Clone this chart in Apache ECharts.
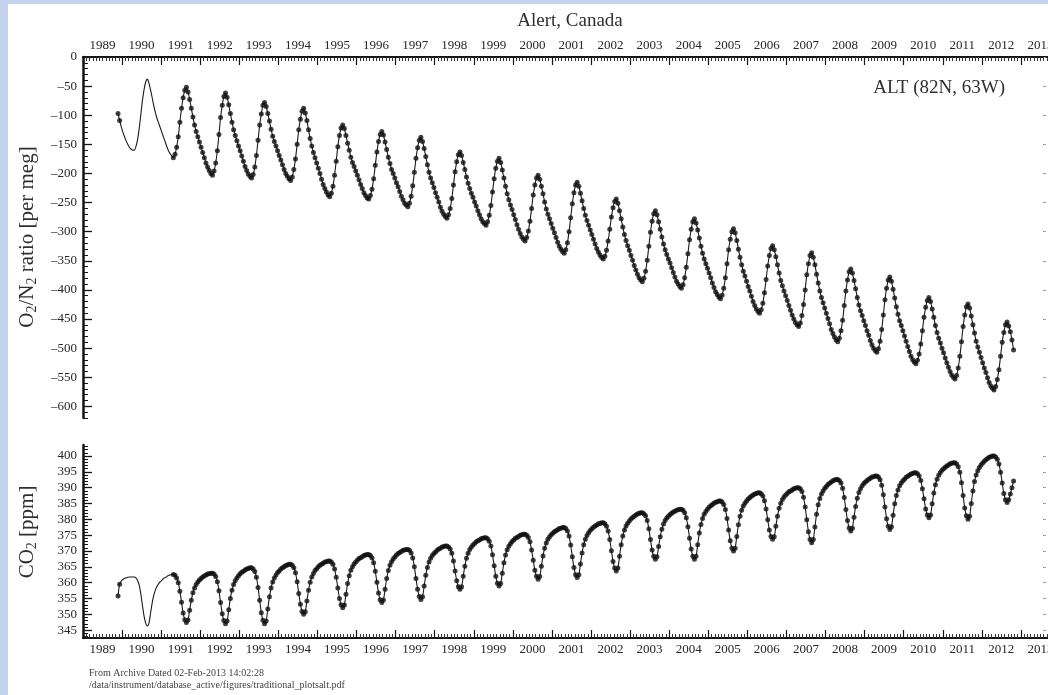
<!DOCTYPE html>
<html><head><meta charset="utf-8">
<script src="https://cdn.jsdelivr.net/npm/echarts@6/dist/echarts.min.js"></script>
<style>
html,body{margin:0;padding:0;background:#c4d3ee;overflow:hidden;}
#panel{position:absolute;left:8px;top:4px;width:1040px;height:691px;background:#fff;}
#chart{position:absolute;left:0;top:0;width:1048px;height:695px;}
</style></head><body><div id="panel"></div><div id="chart"></div>
<script>
// Semi-monthly samples (24 per year), first sample at 1989 + 21.5/24
const seriesStart = 1989 + 21.5 / 24;
const samplesPerYear = 24;
// data gap (curve only, no flask points)
const gapFrom = 1989.95, gapTo = 1991.29;

const o2n2 = [
-97,-109,-120,
-129,-137,-144,-150,-155,-158,-160,-160,-154,-142,-123,-99,-75,-56,-43,-38,-45,-57,-70,-84,-96,-106,-114,-122,
-130,-138,-146,-154,-161,-166,-170,-173,-167,-155,-137,-112,-88,-70,-57,-52,-60,-73,-88,-103,-117,-128,-137,-146,
-155,-164,-173,-182,-189,-195,-200,-203,-196,-182,-161,-133,-104,-83,-68,-62,-69,-82,-97,-112,-125,-135,-144,-153,
-161,-170,-179,-188,-195,-201,-205,-208,-202,-189,-169,-143,-117,-98,-83,-78,-85,-97,-110,-124,-136,-145,-153,-161,
-169,-177,-185,-193,-200,-205,-209,-212,-206,-193,-175,-150,-125,-107,-93,-88,-96,-109,-125,-140,-153,-164,-173,-182,
-191,-200,-210,-219,-226,-232,-237,-240,-234,-222,-203,-179,-154,-135,-122,-117,-123,-135,-148,-160,-172,-181,-188,-196,
-203,-211,-219,-226,-233,-238,-242,-244,-238,-227,-209,-186,-163,-145,-133,-128,-134,-146,-159,-172,-183,-193,-200,-208,
-216,-223,-231,-239,-245,-251,-254,-257,-251,-239,-221,-198,-174,-156,-143,-138,-145,-157,-171,-185,-198,-208,-216,-224,
-233,-241,-249,-258,-265,-270,-274,-277,-271,-260,-243,-220,-197,-180,-168,-163,-169,-181,-193,-206,-217,-226,-234,-241,
-249,-256,-264,-271,-278,-283,-286,-289,-283,-272,-255,-232,-209,-191,-179,-174,-181,-194,-208,-222,-235,-245,-254,-262,
-271,-279,-288,-296,-303,-309,-313,-316,-310,-299,-282,-260,-237,-220,-208,-203,-210,-222,-235,-249,-261,-270,-278,-286,
-294,-302,-310,-318,-325,-330,-334,-337,-331,-319,-300,-276,-252,-233,-220,-215,-222,-234,-247,-260,-272,-281,-289,-297,
-305,-313,-321,-329,-335,-340,-344,-347,-342,-332,-316,-296,-275,-259,-248,-244,-251,-264,-278,-292,-305,-315,-324,-332,
-341,-349,-358,-366,-373,-379,-383,-386,-380,-368,-349,-325,-301,-282,-269,-264,-271,-283,-296,-309,-321,-331,-339,-347,
-354,-362,-370,-378,-385,-390,-394,-397,-391,-379,-361,-338,-314,-296,-283,-278,-285,-297,-311,-325,-337,-347,-355,-363,
-371,-379,-388,-396,-403,-408,-412,-415,-409,-397,-379,-355,-331,-313,-300,-295,-302,-315,-330,-344,-357,-368,-376,-385,
-394,-402,-411,-420,-427,-433,-437,-440,-434,-423,-405,-382,-359,-341,-329,-324,-331,-343,-357,-371,-384,-393,-402,-410,
-418,-427,-435,-443,-450,-456,-460,-463,-457,-444,-425,-400,-374,-355,-341,-336,-344,-357,-373,-388,-402,-413,-422,-431,
-440,-449,-458,-468,-475,-481,-486,-489,-483,-470,-452,-427,-402,-383,-369,-364,-371,-384,-398,-413,-426,-436,-444,-453,
-461,-470,-478,-487,-494,-500,-504,-507,-501,-488,-468,-443,-417,-397,-383,-378,-385,-399,-414,-429,-442,-453,-461,-470,
-479,-488,-497,-506,-514,-520,-524,-527,-521,-510,-493,-470,-447,-430,-418,-413,-420,-433,-447,-461,-473,-483,-491,-500,
-508,-517,-525,-533,-540,-546,-550,-553,-547,-534,-514,-489,-463,-443,-429,-424,-431,-445,-460,-474,-488,-498,-507,-516,
-525,-534,-542,-551,-559,-565,-569,-572,-566,-554,-537,-514,-490,-473,-460,-455,-462,-472,-486,-503
];

const co2 = [
355.8,359.5,360.5,
361.0,361.3,361.5,361.7,361.8,361.8,361.8,361.8,361.5,360.7,359.2,356.4,352.8,349.4,347.2,346.3,347.1,350.4,353.6,356.1,357.7,358.9,359.7,360.3,
360.8,361.3,361.6,361.9,362.3,362.4,362.6,362.6,362.3,361.5,360.0,357.3,353.8,350.4,348.3,347.4,348.2,351.3,354.4,356.8,358.3,359.4,360.2,360.8,
361.3,361.8,362.1,362.4,362.7,362.8,363.0,363.0,362.7,361.9,360.3,357.4,353.7,350.2,348.0,347.0,347.9,351.4,355.0,357.6,359.4,360.6,361.5,362.2,
362.8,363.3,363.6,364.0,364.3,364.5,364.7,364.7,364.3,363.5,361.7,358.5,354.4,350.5,348.1,347.0,347.9,351.7,355.5,358.3,360.2,361.5,362.4,363.2,
363.7,364.3,364.7,365.0,365.4,365.6,365.8,365.8,365.5,364.7,363.1,360.3,356.6,353.2,350.9,350.0,350.8,354.2,357.6,360.1,361.8,362.9,363.8,364.4,
365.0,365.5,365.8,366.1,366.5,366.6,366.8,366.8,366.5,365.8,364.3,361.7,358.3,355.0,353.0,352.1,352.9,356.3,359.7,362.2,363.9,365.0,365.9,366.5,
367.1,367.6,367.9,368.2,368.6,368.7,368.9,368.9,368.6,367.8,366.3,363.6,360.1,356.7,354.6,353.7,354.5,357.9,361.3,363.8,365.5,366.6,367.5,368.1,
368.7,369.2,369.5,369.8,370.2,370.3,370.5,370.5,370.2,369.4,367.8,365.0,361.3,357.9,355.6,354.7,355.5,358.9,362.3,364.8,366.5,367.7,368.6,369.2,
369.7,370.2,370.6,370.9,371.3,371.4,371.6,371.6,371.3,370.6,369.3,366.8,363.7,360.6,358.7,357.9,358.7,362.0,365.2,367.7,369.3,370.5,371.3,371.9,
372.4,372.9,373.2,373.5,373.9,374.0,374.2,374.2,373.9,373.1,371.6,368.8,365.3,362.0,359.8,358.9,359.7,363.0,366.3,368.7,370.4,371.5,372.3,373.0,
373.5,374.0,374.3,374.6,375.0,375.1,375.3,375.3,375.0,374.3,372.9,370.3,367.1,363.9,362.0,361.1,361.9,365.2,368.4,370.9,372.5,373.7,374.5,375.1,
375.6,376.1,376.4,376.7,377.1,377.2,377.4,377.4,377.1,376.3,374.7,371.9,368.2,364.8,362.5,361.6,362.5,365.9,369.4,372.0,373.7,374.9,375.8,376.5,
377.0,377.5,377.9,378.2,378.6,378.7,378.9,378.9,378.6,377.8,376.3,373.6,370.1,366.7,364.6,363.7,364.6,368.3,372.0,374.7,376.6,377.9,378.8,379.5,
380.1,380.6,381.0,381.4,381.7,381.9,382.1,382.1,381.8,381.1,379.6,377.0,373.6,370.3,368.3,367.4,368.2,371.4,374.5,376.9,378.5,379.6,380.4,381.0,
381.5,381.9,382.3,382.6,382.9,383.0,383.2,383.2,382.9,382.1,380.5,377.7,374.0,370.6,368.3,367.4,368.3,372.0,375.7,378.4,380.3,381.6,382.5,383.2,
383.8,384.3,384.7,385.1,385.4,385.6,385.8,385.8,385.5,384.7,383.1,380.3,376.6,373.2,370.9,370.0,370.9,374.6,378.3,381.0,382.9,384.2,385.1,385.8,
386.4,386.9,387.3,387.7,388.0,388.2,388.4,388.4,388.1,387.4,385.9,383.3,379.9,376.6,374.6,373.7,374.5,377.8,381.0,383.5,385.1,386.3,387.1,387.7,
388.2,388.7,389.0,389.3,389.7,389.8,390.0,390.0,389.7,388.8,387.0,383.9,379.9,376.1,373.6,372.6,373.6,377.6,381.6,384.6,386.6,388.0,389.0,389.8,
390.4,391.0,391.4,391.8,392.2,392.4,392.6,392.6,392.3,391.5,389.8,386.9,383.1,379.6,377.3,376.3,377.2,380.7,384.1,386.7,388.5,389.7,390.6,391.3,
391.8,392.3,392.7,393.0,393.4,393.5,393.7,393.7,393.4,392.5,390.8,387.8,383.9,380.2,377.8,376.8,377.7,381.3,384.9,387.5,389.3,390.6,391.5,392.2,
392.7,393.3,393.6,394.0,394.3,394.5,394.7,394.7,394.4,393.7,392.3,389.7,386.5,383.3,381.4,380.5,381.4,384.9,388.3,390.9,392.7,393.9,394.8,395.5,
396.0,396.5,396.9,397.2,397.6,397.7,397.9,397.9,397.5,396.6,394.9,391.6,387.5,383.6,381.1,380.0,381.0,385.0,389.0,392.0,394.0,395.4,396.4,397.2,
397.8,398.4,398.8,399.2,399.6,399.8,400.0,400.0,399.7,399.0,397.5,394.9,391.5,388.2,386.2,385.3,386.2,388.0,390.0,392.1
];

const yearMin = 1989, yearMax = 2014, lastYearLabel = 2013;
const o2MajorTicks = [0,-50,-100,-150,-200,-250,-300,-350,-400,-450,-500,-550,-600];
const o2MinorTicks = [-620,-610,-600,-590,-580,-570,-560,-550,-540,-530,-520,-510,-500,-490,-480,-470,-460,-450,-440,-430,-420,-410,-400,-390,-380,-370,-360,-350,-340,-330,-320,-310,-300,-290,-280,-270,-260,-250,-240,-230,-220,-210,-200,-190,-180,-170,-160,-150,-140,-130,-120,-110,-100,-90,-80,-70,-60,-50,-40,-30,-20,-10,0];
const co2MajorTicks = [345,350,355,360,365,370,375,380,385,390,395,400];
const co2MinorTicks = [343,344,345,346,347,348,349,350,351,352,353,354,355,356,357,358,359,360,361,362,363,364,365,366,367,368,369,370,371,372,373,374,375,376,377,378,379,380,381,382,383,384,385,386,387,388,389,390,391,392,393,394,395,396,397,398,399,400,401,402,403];

const titleText = 'Alert, Canada';
const siteText = 'ALT (82N, 63W)';
const footer1 = 'From Archive Dated 02-Feb-2013 14:02:28';
const footer2 = '/data/instrument/database_active/figures/traditional_plotsalt.pdf';

const timeOf = i => seriesStart + i / samplesPerYear;
const inGap = t => t > gapFrom && t < gapTo;
const o2Curve = o2n2.map((v, i) => [timeOf(i), v]);
const o2Pts = o2Curve.filter(p => !inGap(p[0]));
const co2Curve = co2.map((v, i) => [timeOf(i), v]);
const co2Pts = co2Curve.filter(p => !inGap(p[0]));

const SERIF = '"Liberation Serif","DejaVu Serif",serif';
const TXT = '#262626';
const AX = '#141414';
const minus = v => (v < 0 ? '\u2013' + (-v) : String(v));

function xAxis(grid, pos) {
  return {
    type: 'value', gridIndex: grid, position: pos, min: yearMin, max: yearMax, interval: 1,
    axisLine: { show: true, onZero: false, lineStyle: { color: AX, width: 2 } },
    axisTick: { show: true, inside: true, length: 8, lineStyle: { color: AX, width: 1.2 } },
    minorTick: { show: true, splitNumber: 12, length: 4, lineStyle: { color: '#333', width: 1 } },
    splitLine: { show: false },
    axisLabel: {
      show: true, margin: 5, fontFamily: SERIF, fontSize: 13, color: TXT,
      padding: [0, 0, 0, 39],
      formatter: v => (Number.isInteger(v) && v <= lastYearLabel ? String(v) : '')
    }
  };
}
function yMajor(grid, min, max, ticks, fmt) {
  return {
    type: 'value', gridIndex: grid, position: 'left', min, max,
    axisLine: { show: true, onZero: false, lineStyle: { color: AX, width: 2.5 } },
    axisTick: { show: true, inside: true, length: 9, customValues: ticks, lineStyle: { color: AX, width: 1.3 } },
    axisLabel: { show: true, customValues: ticks, margin: 6, fontFamily: SERIF, fontSize: 13, color: TXT, formatter: fmt },
    splitLine: { show: false }
  };
}
function yMinor(grid, min, max, ticks) {
  return {
    type: 'value', gridIndex: grid, position: 'left', min, max,
    axisLine: { show: false },
    axisTick: { show: true, inside: true, length: 5, customValues: ticks, lineStyle: { color: AX, width: 1 } },
    axisLabel: { show: false }, splitLine: { show: false }
  };
}
function yRight(grid, min, max, ticks) {
  return {
    type: 'value', gridIndex: grid, position: 'right', offset: -14, min, max,
    axisLine: { show: false },
    axisTick: { show: true, inside: true, length: 3, customValues: ticks, lineStyle: { color: '#9a9a9a', width: 1 } },
    axisLabel: { show: false }, splitLine: { show: false }
  };
}

const chart = echarts.init(document.getElementById('chart'), null, { renderer: 'canvas' });
chart.setOption({
  animation: false,
  backgroundColor: 'transparent',
  grid: [
    { left: 83, width: 977, top: 57, height: 361, outerBoundsMode: 'none', containLabel: false },
    { left: 83, width: 977, top: 445, height: 193, outerBoundsMode: 'none', containLabel: false }
  ],
  xAxis: [xAxis(0, 'top'), xAxis(1, 'bottom')],
  yAxis: [
    yMajor(0, -620, 0, o2MajorTicks, minus),
    yMinor(0, -620, 0, o2MinorTicks),
    yRight(0, -620, 0, o2MajorTicks),
    yMajor(1, 342.5, 403.5, co2MajorTicks, v => String(v)),
    yMinor(1, 342.5, 403.5, co2MinorTicks),
    yRight(1, 342.5, 403.5, co2MajorTicks)
  ],
  series: [
    { type: 'line', xAxisIndex: 0, yAxisIndex: 0, data: o2Curve, showSymbol: false, smooth: 0.3,
      lineStyle: { color: '#1a1a1a', width: 1.1 }, z: 2 },
    { type: 'scatter', xAxisIndex: 0, yAxisIndex: 0, data: o2Pts, symbol: 'circle', symbolSize: 5,
      itemStyle: { color: '#111' }, z: 3 },
    { type: 'line', xAxisIndex: 1, yAxisIndex: 3, data: co2Curve, showSymbol: false, smooth: 0.3,
      lineStyle: { color: '#1a1a1a', width: 1.1 }, z: 2 },
    { type: 'scatter', xAxisIndex: 1, yAxisIndex: 3, data: co2Pts, symbol: 'circle', symbolSize: 5,
      itemStyle: { color: '#111' }, z: 3 }
  ],
  graphic: [
    { type: 'text', x: 570, y: 21, style: { text: titleText, fontFamily: SERIF, fontSize: 19, fill: '#303030',
      align: 'center', verticalAlign: 'middle', textAlign: 'center', textVerticalAlign: 'middle' } },
    { type: 'text', x: 1005, y: 88, style: { text: siteText, fontFamily: SERIF, fontSize: 19, fill: '#303030',
      align: 'right', verticalAlign: 'middle', textAlign: 'right', textVerticalAlign: 'middle' } },
    { type: 'text', x: 27, y: 237, rotation: Math.PI / 2,
      style: { text: '{a|O}{s|2}{a|/N}{s|2}{a| ratio [per meg]}', align: 'center', verticalAlign: 'middle',
        textAlign: 'center', textVerticalAlign: 'middle',
        rich: { a: { fontFamily: SERIF, fontSize: 21, fill: '#303030', lineHeight: 25 },
                s: { fontFamily: SERIF, fontSize: 14, fill: '#303030', lineHeight: 14, verticalAlign: 'bottom' } } } },
    { type: 'text', x: 27, y: 532, rotation: Math.PI / 2,
      style: { text: '{a|CO}{s|2}{a| [ppm]}', align: 'center', verticalAlign: 'middle',
        textAlign: 'center', textVerticalAlign: 'middle',
        rich: { a: { fontFamily: SERIF, fontSize: 21, fill: '#303030', lineHeight: 25 },
                s: { fontFamily: SERIF, fontSize: 14, fill: '#303030', lineHeight: 14, verticalAlign: 'bottom' } } } },
    { type: 'text', x: 89, y: 673, style: { text: footer1, fontFamily: SERIF, fontSize: 10, fill: '#444',
      verticalAlign: 'middle', textVerticalAlign: 'middle' } },
    { type: 'text', x: 89, y: 685, style: { text: footer2, fontFamily: SERIF, fontSize: 10, fill: '#444',
      verticalAlign: 'middle', textVerticalAlign: 'middle' } }
  ]
});
</script></body></html>
